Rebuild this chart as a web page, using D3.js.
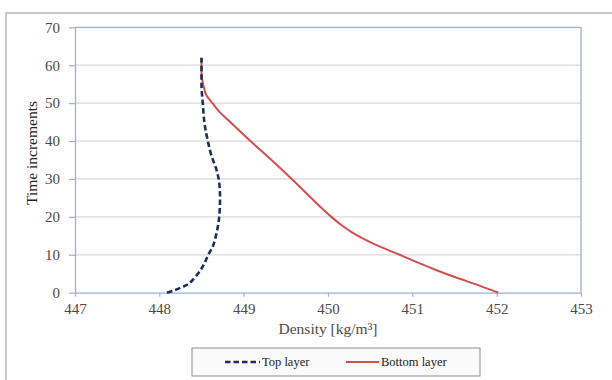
<!DOCTYPE html>
<html>
<head>
<meta charset="utf-8">
<script src="https://cdn.jsdelivr.net/npm/d3@7"></script>
<style>
  html, body { margin: 0; padding: 0; background: #fff; }
  svg { display: block; }
</style>
</head>
<body>
<svg id="chart" width="612" height="380"></svg>
<script>
// ---- data ----
const topTime    = [0, 1, 2, 4, 6, 8, 10, 12, 15, 20, 25, 29, 33, 36, 40, 44, 50, 55, 60, 62];
const topDensity = [448.09, 448.22, 448.32, 448.42, 448.49, 448.54, 448.58, 448.63, 448.67, 448.71, 448.72, 448.71, 448.67, 448.62, 448.575, 448.54, 448.515, 448.50, 448.50, 448.50];

const bottomTime    = [0, 2, 4, 6, 8, 10, 12, 14, 16, 18, 20, 22, 25, 30, 35, 40, 45, 48, 50, 52, 54, 56, 58, 60, 62];
const bottomDensity = [452.02, 451.78, 451.52, 451.28, 451.06, 450.85, 450.63, 450.44, 450.28, 450.15, 450.04, 449.94, 449.80, 449.57, 449.33, 449.08, 448.84, 448.70, 448.63, 448.56, 448.53, 448.51, 448.50, 448.50, 448.50];

const xTicks = [447, 448, 449, 450, 451, 452, 453];
const yTicks = [0, 10, 20, 30, 40, 50, 60, 70];
const seriesNames = ["Top layer", "Bottom layer"];
const xTitle = "Density [kg/m\u00B3]";
const yTitle = "Time increments";

// ---- layout ----
const svg = d3.select("#chart");
const L = 75, R = 581, T = 27.3, B = 292.7;
const font = "'Liberation Serif', 'Times New Roman', serif";
const axisCol = "#9db0cf";
const gridCol = "#d9d9d9";
const textCol = "#4a4a4a";

// outer chart border
svg.append("rect").attr("x", 6).attr("y", 13).attr("width", 640).attr("height", 400)
  .attr("fill", "#fff").attr("stroke", "#c8c8c8").attr("stroke-width", 2);

const x = d3.scaleLinear().domain([447, 453]).range([L, R]);
const y = d3.scaleLinear().domain([0, 70]).range([B, T]);

// gridlines
svg.append("g").selectAll("line").data(yTicks.filter(d => d > 0 && d < 70)).join("line")
  .attr("x1", L).attr("x2", R).attr("y1", d => y(d)).attr("y2", d => y(d))
  .attr("stroke", gridCol).attr("stroke-width", 1.2);

// plot border (top, right)
svg.append("line").attr("x1", L).attr("x2", R).attr("y1", T).attr("y2", T).attr("stroke", axisCol).attr("stroke-width", 1.3);
svg.append("line").attr("x1", R).attr("x2", R).attr("y1", T).attr("y2", B).attr("stroke", axisCol).attr("stroke-width", 1.3);

// axes
const xAxis = svg.append("g").attr("transform", `translate(0,${B})`)
  .call(d3.axisBottom(x).tickValues(xTicks).tickSize(4).tickPadding(5).tickSizeOuter(0).tickFormat(d3.format("d")));
const yAxis = svg.append("g").attr("transform", `translate(${L},0)`)
  .call(d3.axisLeft(y).tickValues(yTicks).tickSize(6).tickPadding(9).tickSizeOuter(0).tickFormat(d3.format("d")));
[xAxis, yAxis].forEach(g => {
  g.select(".domain").attr("stroke", axisCol).attr("stroke-width", 1.3);
  g.selectAll(".tick line").attr("stroke", axisCol).attr("stroke-width", 1.2);
  g.selectAll(".tick text").attr("fill", textCol).attr("font-family", font).attr("font-size", 15);
});
xAxis.selectAll(".tick text").attr("dy", "0.8em");

// axis titles
svg.append("text").attr("x", (L + R) / 2).attr("y", 334).attr("text-anchor", "middle")
  .attr("font-family", font).attr("font-size", 15.5).attr("fill", textCol).text(xTitle);
svg.append("text").attr("transform", `translate(37,153) rotate(-90)`).attr("text-anchor", "middle")
  .attr("font-family", font).attr("font-size", 15.5).attr("fill", "#222").text(yTitle);

// lines
const line = d3.line().x(d => x(d[0])).y(d => y(d[1])).curve(d3.curveMonotoneY);
const topData = topTime.map((t, i) => [topDensity[i], t]);
const bottomData = bottomTime.map((t, i) => [bottomDensity[i], t]);

svg.append("path").datum(bottomData).attr("d", line).attr("fill", "none")
  .attr("stroke", "#d0504d").attr("stroke-width", 2);
svg.append("path").datum(topData).attr("d", line).attr("fill", "none")
  .attr("stroke", "#1c2e5c").attr("stroke-width", 2.6).attr("stroke-dasharray", "5.5,3");

// legend
const lg = svg.append("g");
lg.append("rect").attr("x", 192).attr("y", 348).attr("width", 288).attr("height", 28)
  .attr("fill", "#fafafa").attr("stroke", "#8c8c8c").attr("stroke-width", 1);
lg.append("line").attr("x1", 225).attr("x2", 260).attr("y1", 362).attr("y2", 362)
  .attr("stroke", "#1c2e5c").attr("stroke-width", 2.6).attr("stroke-dasharray", "5.5,3");
lg.append("text").attr("x", 262).attr("y", 366).attr("font-family", font).attr("font-size", 12.5)
  .attr("fill", "#222").text(seriesNames[0]);
lg.append("line").attr("x1", 346).attr("x2", 379).attr("y1", 362).attr("y2", 362)
  .attr("stroke", "#d0504d").attr("stroke-width", 2);
lg.append("text").attr("x", 381).attr("y", 366).attr("font-family", font).attr("font-size", 12.5)
  .attr("fill", "#222").text(seriesNames[1]);
</script>
</body>
</html>
